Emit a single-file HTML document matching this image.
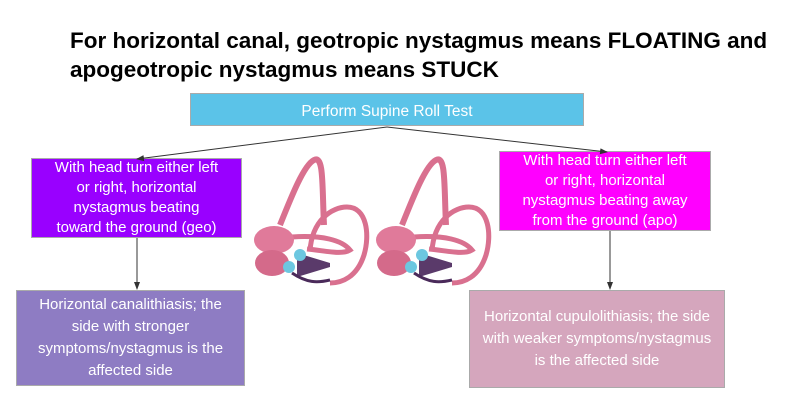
<!DOCTYPE html>
<html><head><meta charset="utf-8"><style>
body{margin:0;width:798px;height:416px;background:#fff;position:relative;overflow:hidden;font-family:"Liberation Sans",sans-serif}
.t{position:absolute;left:70px;top:26px;font-size:22.5px;font-weight:bold;line-height:29px;color:#000;white-space:nowrap}
.b{position:absolute;box-sizing:border-box;border:1.5px solid #aaa;color:#fff;display:flex;align-items:center;justify-content:center;text-align:center;font-size:15px;line-height:20px}
</style></head><body>
<div class="t">For horizontal canal, geotropic nystagmus means FLOATING and<br>apogeotropic nystagmus means STUCK</div>
<div class="b" style="left:190px;top:93px;width:394px;height:33px;background:#5bc3e8;font-size:15.5px;padding-top:4px">Perform Supine Roll Test</div>
<div class="b" style="left:31px;top:158px;width:211px;height:80px;background:#9900ff">With head turn either left<br>or right, horizontal<br>nystagmus beating<br>toward the ground (geo)</div>
<div class="b" style="left:499px;top:151px;width:212px;height:80px;background:#ff00ff">With head turn either left<br>or right, horizontal<br>nystagmus beating away<br>from the ground (apo)</div>
<div class="b" style="left:16px;top:290px;width:229px;height:96px;background:#8e7cc3;font-size:15px;line-height:22px">Horizontal canalithiasis; the<br>side with stronger<br>symptoms/nystagmus is the<br>affected side</div>
<div class="b" style="left:469px;top:290px;width:256px;height:98px;background:#d5a6bd;font-size:15px;line-height:22px">Horizontal cupulolithiasis; the side<br>with weaker symptoms/nystagmus<br>is the affected side</div>
<svg width="798" height="416" style="position:absolute;left:0;top:0">
<defs><marker id="a" markerWidth="8" markerHeight="8" refX="7" refY="4" orient="auto"><path d="M0,1 L8,4 L0,7z" fill="#333"/></marker>
<g id="ear">
<path d="M28,70 C40,40 52,10 62,5 C72,0 70,30 72,70" fill="none" stroke="#d9708f" stroke-width="6"/>
<path d="M58,96 C60,65 80,52 95,52 C115,52 118,80 112,100 C105,122 90,128 78,128" fill="none" stroke="#d9708f" stroke-width="5"/>
<path d="M40,82 C70,80 90,85 98,95 C90,100 75,96 55,94" fill="none" stroke="#d9708f" stroke-width="5"/>
<ellipse cx="22" cy="85" rx="20" ry="14" fill="#e07a9a"/>
<ellipse cx="20" cy="108" rx="17" ry="13" fill="#d46a8a"/>
<path d="M45,98 L78,108 L78,112 L45,122z" fill="#5a3a6a"/>
<path d="M40,118 C55,128 65,128 78,125" fill="none" stroke="#4a2a5a" stroke-width="3"/>
<circle cx="48" cy="100" r="6" fill="#6cc7e0"/>
<circle cx="37" cy="112" r="6" fill="#6cc7e0"/>
</g></defs>
<line x1="387" y1="127" x2="137" y2="159" stroke="#333" stroke-width="1" marker-end="url(#a)"/>
<line x1="387" y1="127" x2="607" y2="152" stroke="#333" stroke-width="1" marker-end="url(#a)"/>
<line x1="137" y1="238" x2="137" y2="289" stroke="#333" stroke-width="1" marker-end="url(#a)"/>
<line x1="610" y1="231" x2="610" y2="289" stroke="#333" stroke-width="1" marker-end="url(#a)"/>
<use href="#ear" x="252" y="155"/>
<use href="#ear" x="374" y="155"/>
</svg>
</body></html>
